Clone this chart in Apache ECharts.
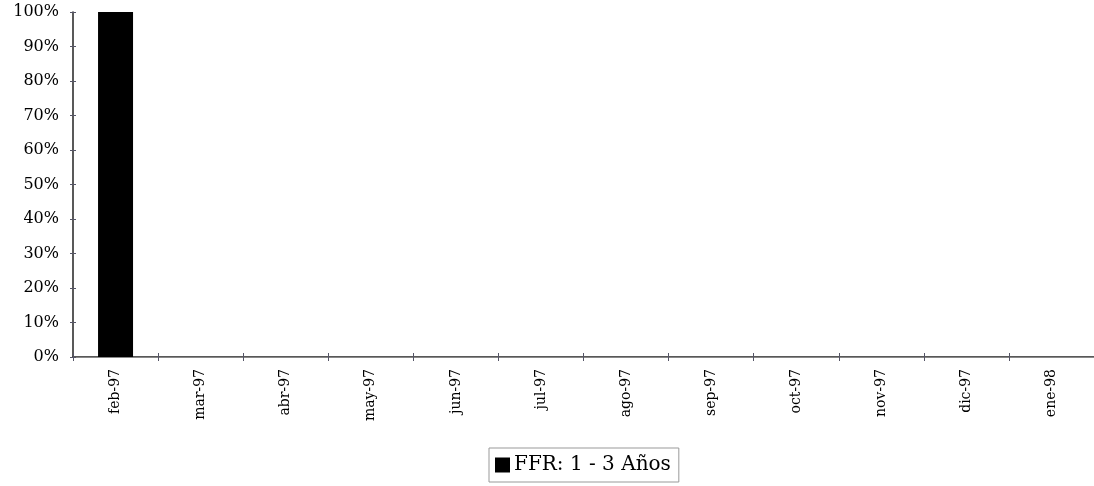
<!DOCTYPE html>
<html>
<head>
<meta charset="utf-8">
<script src="https://cdn.jsdelivr.net/npm/echarts@6/dist/echarts.min.js"></script>
<style>
  html, body { margin: 0; padding: 0; background: #fff; }
  #chart { width: 1094px; height: 486px; }
</style>
</head>
<body>
<div id="chart"></div>
<script>
// Monthly share of the 1–3 year bucket
const months = ['feb-97', 'mar-97', 'abr-97', 'may-97', 'jun-97', 'jul-97',
                'ago-97', 'sep-97', 'oct-97', 'nov-97', 'dic-97', 'ene-98'];
const ffr13 = [1, 0, 0, 0, 0, 0, 0, 0, 0, 0, 0, 0];
const seriesName = 'FFR: 1 - 3 Años';

const font = 'DejaVu Serif';
const chart = echarts.init(document.getElementById('chart'), null, { renderer: 'canvas' });

chart.setOption({
  animation: false,
  backgroundColor: '#ffffff',
  textStyle: { fontFamily: font, color: '#000' },
  grid: { left: 73, top: 12, width: 1026, height: 345 },
  legend: {
    bottom: 4,
    left: 489,
    data: [seriesName],
    icon: 'rect',
    itemWidth: 15,
    itemHeight: 15,
    itemGap: 6,
    padding: [7, 8, 7, 6],
    borderColor: '#999',
    borderWidth: 1,
    textStyle: { fontFamily: font, fontSize: 20, color: '#000', padding: [0, 0, 0, -1] }
  },
  xAxis: [
    {
      type: 'category',
      data: months,
      position: 'bottom',
      axisLine: { lineStyle: { color: '#222', width: 1.5 } },
      axisTick: { show: true, length: 4, lineStyle: { color: '#556' } },
      axisLabel: { rotate: 90, fontFamily: font, fontSize: 14, color: '#000', margin: 12 }
    },
    {
      // thin frame line across the top of the plot
      type: 'category',
      data: months,
      position: 'top',
      axisLine: { lineStyle: { color: '#888', width: 1 } },
      axisTick: { show: false },
      axisLabel: { show: false }
    },
    {
      // inner half of the crossing category ticks
      type: 'category',
      data: months,
      position: 'bottom',
      axisLine: { show: false },
      axisTick: { show: true, inside: true, length: 4, lineStyle: { color: '#556' } },
      axisLabel: { show: false }
    }
  ],
  yAxis: [
    {
      type: 'value',
      min: 0, max: 1, interval: 0.1,
      axisLine: { show: true, lineStyle: { color: '#222', width: 1.5 } },
      axisTick: { show: true, length: 3, lineStyle: { color: '#556' } },
      splitLine: { show: false },
      axisLabel: {
        fontFamily: font, fontSize: 16, color: '#000', margin: 14,
        formatter: v => Math.round(v * 100) + '%'
      }
    },
    {
      // inner half of the crossing value ticks
      type: 'value',
      position: 'left',
      min: 0, max: 1, interval: 0.1,
      axisLine: { show: false },
      axisTick: { show: true, inside: true, length: 3, lineStyle: { color: '#556' } },
      splitLine: { show: false },
      axisLabel: { show: false }
    }
  ],
  series: [
    {
      name: seriesName,
      type: 'bar',
      data: ffr13,
      barWidth: 35,
      itemStyle: { color: '#000' }
    }
  ]
});
</script>
</body>
</html>
